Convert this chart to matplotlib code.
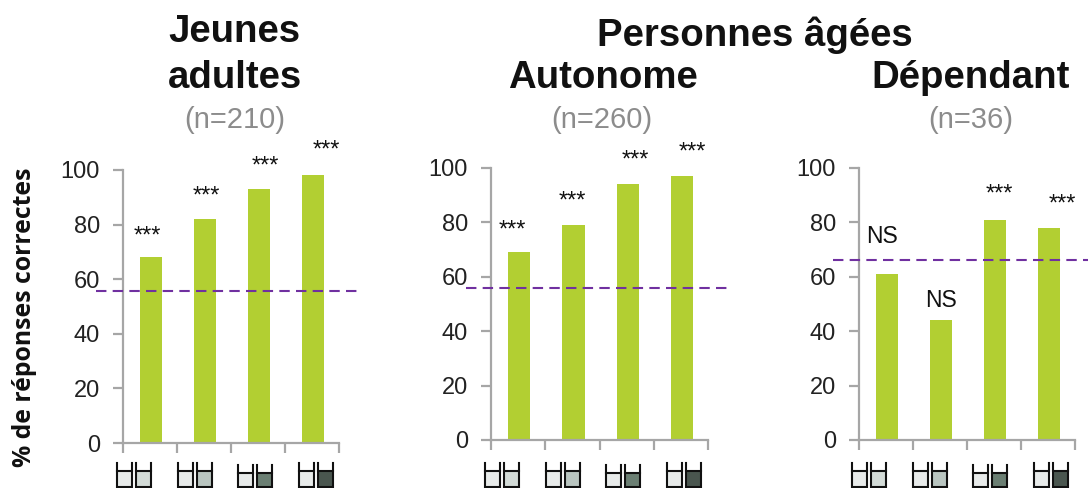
import matplotlib
matplotlib.use("Agg")
import matplotlib.pyplot as plt
from matplotlib.patches import Rectangle

plt.rcParams['font.family'] = ['Liberation Sans', 'DejaVu Sans']

W, H = 1091, 488

# values
young = [68, 82, 93, 98]
autonomous = [69, 79, 94, 97]
dependent = [61, 44, 81, 78]
young_sig = ['***', '***', '***', '***']
autonomous_sig = ['***', '***', '***', '***']
dependent_sig = ['NS', 'NS', '***', '***']
chance = [55.7, 55.9, 66]
y_ticks = [0, 20, 40, 60, 80, 100]
cuvette_colors = ['#d3dbd7', '#b9c5c0', '#6b7f73', '#4a564f']

# label offsets from the top of each bar, in pixels
young_off = [(-3.5, 21), (1, 23), (6.5, 23), (13, 25)]
autonomous_off = [(-7, 22), (-1, 24), (8, 24), (10, 24)]
dependent_off = [(-5, 38), (0, 20), (4, 25), (13, 23)]

GREEN = '#b2cf32'
PURPLE = '#7030a0'
GREY = '#a6a6a6'
INK = '#111111'

fig = plt.figure(figsize=(W / 100, H / 100), dpi=100)

# overlay in pixel coordinates, for titles and the small cuvette icons
overlay = fig.add_axes([0, 0, 1, 1], zorder=5)
overlay.set_xlim(0, W)
overlay.set_ylim(H, 0)
overlay.axis('off')


def draw_cuvette(x, top, fill):
    bottom = 488
    level = top + 8
    overlay.add_patch(Rectangle((x, level), 15, bottom - level, fc=fill, ec='none'))
    overlay.plot([x, x, x + 15, x + 15], [top, bottom - 1, bottom - 1, top], color=INK, lw=1.5,
                 solid_joinstyle='miter')
    overlay.plot([x, x + 15], [level, level], color=INK, lw=1.5)


def draw_panel(left, right, y100, y0, values, sig, offsets, line_value, line_span):
    ax = fig.add_axes([left / W, 1 - y0 / H, (right - left) / W, (y0 - y100) / H])
    ax.set_xlim(0, 4)
    ax.set_ylim(0, 100)
    centers = [0.52, 1.52, 2.52, 3.52]
    ax.bar(centers, values, width=0.41, color=GREEN)
    ax.set_yticks(y_ticks)
    ax.set_xticks([0, 1, 2, 3, 4])
    ax.set_xticklabels([])
    ax.tick_params(axis='both', colors=GREY, width=1.6, length=7, labelsize=17, labelcolor='#222222', pad=9.5)
    for name in ['top', 'right']:
        ax.spines[name].set_visible(False)
    for name in ['left', 'bottom']:
        ax.spines[name].set_color(GREY)
        ax.spines[name].set_linewidth(1.6)

    # dashed chance level, runs past both ends of the axis
    x0 = (line_span[0] - left) / (right - left) * 4
    x1 = (line_span[1] - left) / (right - left) * 4
    ax.plot([x0, x1], [line_value, line_value], color=PURPLE, lw=1.5, dashes=(5, 3), clip_on=False, zorder=3)

    for c, v, s, off in zip(centers, values, sig, offsets):
        size = 16.5 if s == 'NS' else 17
        ax.annotate(s, xy=(c, v), xytext=(off[0] * 0.72, off[1] * 0.72), textcoords='offset points',
                    ha='center', va='center', fontsize=size, color=INK, annotation_clip=False)
    return ax


draw_panel(123, 339, 170, 443, young, young_sig, young_off, chance[0], (96, 358))
draw_panel(491, 708, 168, 440, autonomous, autonomous_sig, autonomous_off, chance[1], (466, 728))
draw_panel(859, 1075, 168, 440, dependent, dependent_sig, dependent_off, chance[2], (833, 1088))

# cuvette pairs under each bar group
for start in [117, 485, 852]:
    for i, fill in enumerate(cuvette_colors):
        x = start + i * 60.5
        top = 465 if i == 2 else 463
        draw_cuvette(x, top, '#e8ebea')
        draw_cuvette(x + 19, top, fill)

title_style = dict(ha='center', va='center', fontsize=27.6, fontweight='bold', color=INK)
overlay.text(234, 32, 'Jeunes', **title_style)
overlay.text(235, 78, 'adultes', **title_style)
overlay.text(755, 35, 'Personnes âgées', **title_style)
overlay.text(603, 78, 'Autonome', **title_style)
overlay.text(971, 78, 'Dépendant', **title_style)
overlay.text(235, 120, '(n=210)', ha='center', va='center', fontsize=21, color='#8c8c8c')
overlay.text(602, 120, '(n=260)', ha='center', va='center', fontsize=21, color='#8c8c8c')
overlay.text(971, 120, '(n=36)', ha='center', va='center', fontsize=21, color='#8c8c8c')
overlay.text(25, 317, '% de réponses correctes', rotation=90, ha='center', va='center', fontsize=17.8,
             fontweight='bold', family='Open Sans', color=INK)

fig.savefig('out.png', dpi=100)
